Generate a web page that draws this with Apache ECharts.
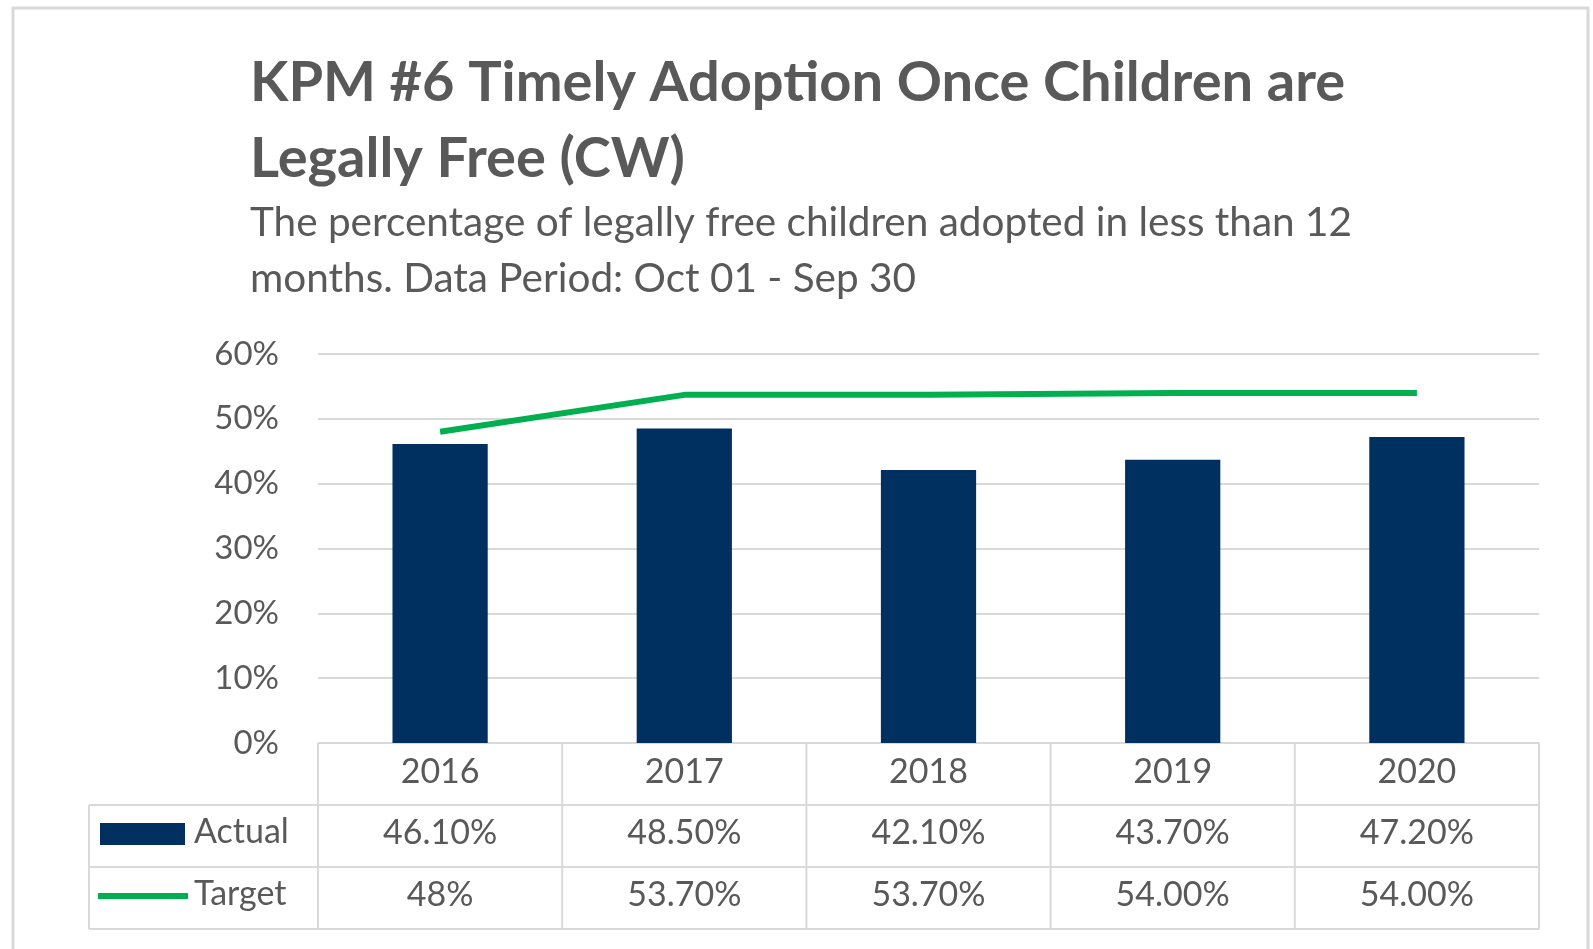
<!DOCTYPE html>
<html lang="en">
<head>
    <meta charset="UTF-8">
    <title>KPM #6 Timely Adoption</title>
    <script src="https://cdn.jsdelivr.net/npm/echarts@6/dist/echarts.min.js"></script>
    <style>
        * { margin: 0; padding: 0; box-sizing: border-box; }
        body { background: #fff; }
        #chart { width: 1593px; height: 949px; }
    </style>
</head>
<body>
    <div id="chart"></div>

    <script>
        // data
        const years = ['2016', '2017', '2018', '2019', '2020'];
        const actual = [46.1, 48.5, 42.1, 43.7, 47.2];
        const target = [48, 53.7, 53.7, 54.0, 54.0];
        const actualLabels = ['46.10%', '48.50%', '42.10%', '43.70%', '47.20%'];
        const targetLabels = ['48%', '53.70%', '53.70%', '54.00%', '54.00%'];
        const seriesNames = ['Actual', 'Target'];

        // layout
        const FONT = 'Lato, "Open Sans", sans-serif';
        const TXT = '#595959';
        const LINE = '#D9D9D9';
        const BLUE = '#00305F';
        const GREEN = '#00B050';
        const gridLeft = 318, gridRight = 1539, gridTop = 354, axisY = 743;
        const rowH = 62, tableLeft = 89;

        const chart = echarts.init(document.getElementById('chart'));

        // table lines + legend keys under the plot
        function tableGraphic() {
            const els = [];
            const n = years.length;
            const colW = (gridRight - gridLeft) / n;
            const bottom = axisY + rowH * 3;
            const ln = (x1, y1, x2, y2) => els.push({
                type: 'line', silent: true,
                shape: { x1, y1, x2, y2 },
                style: { stroke: LINE, lineWidth: 2 }
            });
            // horizontal
            ln(gridLeft, axisY, gridRight, axisY);
            ln(tableLeft, axisY + rowH, gridRight, axisY + rowH);
            ln(tableLeft, axisY + rowH * 2, gridRight, axisY + rowH * 2);
            ln(tableLeft, bottom, gridRight, bottom);
            // vertical
            ln(tableLeft, axisY + rowH, tableLeft, bottom);
            for (let i = 0; i <= n; i++) {
                const x = gridLeft + i * colW;
                ln(x, axisY, x, bottom);
            }
            // cell values
            const rows = [actualLabels, targetLabels];
            rows.forEach((labels, r) => {
                labels.forEach((t, i) => {
                    els.push({
                        type: 'text', silent: true,
                        x: gridLeft + (i + 0.5) * colW,
                        y: axisY + rowH * (r + 1.5) - 3,
                        style: {
                            text: t, fill: TXT, font: '34px ' + FONT,
                            align: 'center', verticalAlign: 'middle'
                        }
                    });
                });
            });
            // legend keys
            els.push({
                type: 'rect', silent: true,
                shape: { x: 100, y: axisY + rowH * 1.5 - 13, width: 85, height: 22 },
                style: { fill: BLUE }
            });
            els.push({
                type: 'line', silent: true,
                shape: { x1: 98, y1: axisY + rowH * 2.5 - 2, x2: 188, y2: axisY + rowH * 2.5 - 2 },
                style: { stroke: GREEN, lineWidth: 6 }
            });
            seriesNames.forEach((name, r) => {
                els.push({
                    type: 'text', silent: true,
                    x: 194, y: axisY + rowH * (r + 1.5) - 4,
                    style: {
                        text: name, fill: TXT, font: '34px ' + FONT,
                        align: 'left', verticalAlign: 'middle'
                    }
                });
            });
            // outer frame
            els.push({
                type: 'rect', silent: true,
                shape: { x: 13, y: 8, width: 1575, height: 960 },
                style: { fill: 'none', stroke: LINE, lineWidth: 3 }
            });
            return els;
        }

        const option = {
            animation: false,
            textStyle: { fontFamily: FONT },
            title: [
                {
                    text: 'KPM #6 Timely Adoption Once Children are\nLegally Free (CW)',
                    left: 245, top: 40,
                    textStyle: { color: TXT, fontSize: 56, fontWeight: 'bold', lineHeight: 76, fontFamily: FONT }
                },
                {
                    text: 'The percentage of legally free children adopted in less than 12\nmonths. Data Period: Oct 01 - Sep 30',
                    left: 245, top: 190,
                    textStyle: { color: TXT, fontSize: 40.5, fontWeight: 'normal', lineHeight: 56, fontFamily: FONT }
                }
            ],
            legend: { show: false },
            grid: {
                left: gridLeft, right: 1593 - gridRight,
                top: gridTop, bottom: 949 - axisY,
                containLabel: false
            },
            xAxis: {
                type: 'category',
                data: years,
                axisLine: { show: false },
                axisTick: { show: false },
                axisLabel: {
                    color: TXT, fontSize: 34, fontFamily: FONT,
                    margin: 29, verticalAlign: 'middle'
                }
            },
            yAxis: {
                type: 'value',
                min: 0, max: 60, interval: 10,
                axisLine: { show: false },
                axisTick: { show: false },
                axisLabel: {
                    formatter: '{value}%', color: TXT, fontSize: 33,
                    fontFamily: FONT, margin: 39,
                    verticalAlign: 'middle', padding: [0, 0, 7, 0]
                },
                splitLine: { lineStyle: { color: LINE, width: 2 } }
            },
            series: [
                {
                    name: seriesNames[0],
                    type: 'bar',
                    data: actual,
                    barWidth: '39%',
                    itemStyle: { color: BLUE }
                },
                {
                    name: seriesNames[1],
                    type: 'line',
                    data: target,
                    symbol: 'none',
                    lineStyle: { color: GREEN, width: 6 },
                    itemStyle: { color: GREEN }
                }
            ],
            graphic: tableGraphic()
        };
        chart.setOption(option);
    </script>
</body>
</html>
